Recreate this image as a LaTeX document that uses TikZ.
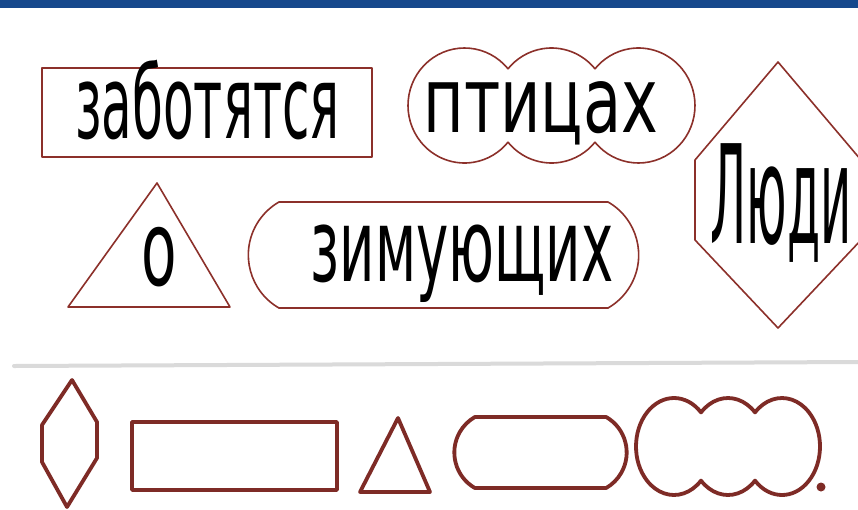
\documentclass[tikz,border=0pt]{standalone}
\usepackage{fontspec}
\usepackage{tikz}
\usetikzlibrary{positioning, calc, shapes.misc}
\definecolor{penRed}{RGB}{140, 48, 42}
\definecolor{barBlue}{RGB}{22, 72, 140}
\definecolor{foldGray}{RGB}{218, 218, 218}
\newfontfamily\handfont{DejaVu Sans Condensed}
% hand lettering: #1 size, #2 horizontal stretch
\newcommand{\handsize}[2]{\handfont\addfontfeature{FakeStretch=#2}\fontsize{#1}{#1}\selectfont}

% outline of three overlapping ellipses: [style] {cx}{cy}{d}{rx}{ry}
\newcommand{\cloudoutline}[6][]{%
  \pgfmathsetmacro{\cloudang}{acos(#4/(2*#5))}
  \draw[#1] ({#2-#4+#5*cos(\cloudang)},{#3-#6*sin(\cloudang)})
    arc[start angle=-\cloudang, end angle=-360+\cloudang, x radius=#5, y radius=#6]
    arc[start angle=180-\cloudang, end angle=\cloudang, x radius=#5, y radius=#6]
    arc[start angle=180-\cloudang, end angle=-180+\cloudang, x radius=#5, y radius=#6]
    arc[start angle=-\cloudang, end angle=-180+\cloudang, x radius=#5, y radius=#6]
    -- cycle;
}

\begin{document}
\begin{tikzpicture}[
    x=1pt, y=-1pt,
    outline/.style={draw=penRed, line width=1.6pt, line join=round},
    fatline/.style={draw=penRed!90!black, line width=3.8pt, line join=round},
    word/.style={anchor=base, inner sep=0pt, text=black},
  ]
    \useasboundingbox (0,0) rectangle (858,509);
    \clip (0,0) rectangle (858,509);
    \fill[white] (0,0) rectangle (858,509);
    \fill[barBlue] (0,0) rectangle (858,8);
    \draw[foldGray, line width=4pt, line cap=round] (14,366) -- (858,362);

    % upper part: words in shapes
    \node[outline, rectangle, minimum width=330pt, minimum height=89pt] (zabBox) at (207,112.5) {};
    \node[word, font={\handsize{101}{0.55}}] (zab) at (207.5,138) {заботятся};

    \cloudoutline[outline]{551.5}{105.5}{87}{56.5}{57.5}
    \coordinate (ptCloud) at (551.5,105.5);
    \node[word, font={\handsize{91}{0.76}}] (pti) at (541,132) {птицах};

    \draw[outline] (778,62) -- (695,160) -- (695,240) -- (778,328) -- (861,240) -- (861,160) -- cycle;
    \node[word, font={\handsize{137}{0.39}}] (lju) at (781,243) {Люди};

    \draw[outline] (157,183) -- (68,307) -- (230,307) -- cycle;
    \node[word, font={\handsize{104}{0.62}}] (o) at (159,285) {о};

    \node[outline, rounded rectangle, rounded rectangle arc length=120,
          minimum width=397pt, minimum height=106pt] (zimBox) at (443.5,255) {};
    \node[word, font={\handsize{101}{0.60}}] (zim) at (462,281) {зимующих};

    % lower part: empty shapes
    \draw[fatline] (72,380) -- (42,425) -- (42,462) -- (67,507) -- (97,458) -- (97,422) -- cycle;
    \node[fatline, rectangle, minimum width=205pt, minimum height=68pt] (emptyRect) at (234.5,456) {};
    \draw[fatline] (398,418) -- (360,492) -- (430,492) -- cycle;
    \node[fatline, rounded rectangle, rounded rectangle arc length=120,
          minimum width=179pt, minimum height=71pt] (emptyRR) at (540.5,452.5) {};
    \cloudoutline[fatline]{728}{446.5}{54}{38}{48.5}
    \fill[penRed!90!black] (821,487) circle[radius=4.5];
  \end{tikzpicture}
\end{document}
